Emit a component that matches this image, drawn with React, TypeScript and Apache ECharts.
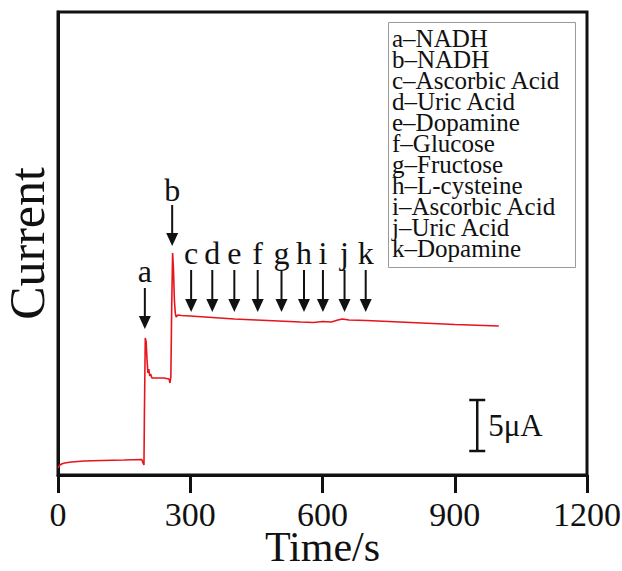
import React, { useEffect, useRef } from 'react';
import * as echarts from 'echarts';

const FONT = "'Liberation Serif', 'Times New Roman', Times, serif";

// Time (s) and current (µA, arbitrary offset)
const times = [0, 3, 8, 15, 30, 60, 100, 150, 190, 193, 195, 196, 198, 200, 202, 204, 206, 208, 210, 213, 220, 240, 252, 254, 256, 258, 260, 262, 264, 266, 268, 272, 280, 300, 350, 400, 450, 500, 550, 580, 600, 620, 635, 645, 660, 700, 800, 900, 1000];
const current = [0.7, 0.95, 1.1, 1.2, 1.3, 1.4, 1.45, 1.5, 1.55, 1.2, 1.0, 6.0, 13.7, 13.3, 11.5, 10.2, 10.6, 9.9, 10.1, 9.7, 9.7, 9.7, 9.6, 9.2, 9.8, 17.0, 22.2, 20.5, 17.5, 16.2, 15.8, 16.0, 15.95, 15.9, 15.75, 15.6, 15.5, 15.4, 15.3, 15.25, 15.35, 15.3, 15.5, 15.6, 15.5, 15.45, 15.25, 15.05, 14.9];

// Injection arrows
const arrowLetters = ['a', 'b', 'c', 'd', 'e', 'f', 'g', 'h', 'i', 'j', 'k'];
const arrowTimes = [197, 259, 302, 350, 400, 453, 507, 558, 601, 650, 698];
const arrowTails = [18.7, 27.0, 20.5, 20.5, 20.5, 20.5, 20.5, 20.5, 20.5, 20.5, 20.5];
const arrowTips = [14.6, 22.9, 16.3, 16.3, 16.3, 16.3, 16.3, 16.3, 16.3, 16.3, 16.3];
const letterLevels = [20.4, 28.5, 22.2, 22.2, 22.2, 22.2, 22.2, 22.2, 22.2, 22.2, 22.2];

const legendItems = [
  'a\u2013NADH',
  'b\u2013NADH',
  'c\u2013Ascorbic Acid',
  'd\u2013Uric Acid',
  'e\u2013Dopamine',
  'f\u2013Glucose',
  'g\u2013Fructose',
  'h\u2013L-cysteine',
  'i\u2013Ascorbic Acid',
  'j\u2013Uric Acid',
  'k\u2013Dopamine',
];

// Scale bar: [time, from, to]
const scaleBar = [[951, 2.4, 7.5]];
const scaleLabel = '5\u03bcA';

export default function App() {
  const ref = useRef<HTMLDivElement>(null);
  useEffect(() => {
    if (!ref.current) return;
    const chart = echarts.init(ref.current, null, { renderer: 'svg' });
    const legendGraphics: any[] = [
      {
        type: 'rect',
        left: 388,
        top: 22,
        shape: { width: 187, height: 245 },
        style: { fill: '#fff', stroke: '#9a9a9a', lineWidth: 1 },
        z: 10,
      },
      ...legendItems.map((txt, i) => ({
        type: 'text',
        x: 392,
        y: 38.5 + i * 21,
        z: 11,
        style: {
          text: txt,
          fontSize: 25,
          lineHeight: 20,
          fontFamily: FONT,
          fill: '#111',
          align: 'left',
          verticalAlign: 'middle',
        },
      })),
    ];
    chart.setOption({
      animation: false,
      backgroundColor: '#fff',
      grid: {
        left: 58,
        right: 35,
        top: 12,
        bottom: 96,
        show: true,
        borderColor: '#111',
        borderWidth: 3,
        backgroundColor: 'transparent',
        containLabel: false,
        outerBoundsMode: 'none',
      },
      xAxis: {
        type: 'value',
        min: 0,
        max: 1200,
        interval: 300,
        name: 'Time/s',
        nameLocation: 'middle',
        nameGap: 51,
        nameMoveOverlap: false,
        nameTextStyle: { fontSize: 42, lineHeight: 42, fontFamily: FONT, color: '#111' },
        axisLine: { show: true, lineStyle: { color: '#111', width: 3 } },
        axisTick: { show: true, inside: false, length: 18, lineStyle: { color: '#111', width: 3 } },
        axisLabel: {
          fontSize: 34,
          fontFamily: FONT,
          color: '#111',
          margin: 22,
          formatter: (v: number) => String(v),
        },
        splitLine: { show: false },
      },
      yAxis: {
        type: 'value',
        min: 0,
        max: 46.3,
        name: 'Current',
        nameLocation: 'middle',
        nameGap: 8,
        nameMoveOverlap: false,
        nameTextStyle: { fontSize: 50, lineHeight: 46, fontFamily: FONT, color: '#111' },
        axisLine: { show: true, lineStyle: { color: '#111', width: 3 } },
        axisTick: { show: false },
        axisLabel: { show: false },
        splitLine: { show: false },
      },
      graphic: legendGraphics,
      series: [
        {
          type: 'line',
          data: times.map((t, i) => [t, current[i]]),
          showSymbol: false,
          symbol: 'none',
          lineStyle: { color: '#e8141c', width: 1.6 },
          z: 3,
        },
        {
          type: 'custom',
          data: arrowTimes.map((t, i) => [t, arrowTails[i], arrowTips[i], letterLevels[i]]),
          z: 4,
          renderItem: (params: any, api: any) => {
            const t = api.value(0);
            const pTail = api.coord([t, api.value(1)]);
            const pTip = api.coord([t, api.value(2)]);
            const pLab = api.coord([t, api.value(3)]);
            const headH = 13;
            const headW = 6;
            return {
              type: 'group',
              children: [
                {
                  type: 'line',
                  shape: { x1: pTail[0], y1: pTail[1], x2: pTip[0], y2: pTip[1] - headH + 1 },
                  style: { stroke: '#111', lineWidth: 2 },
                },
                {
                  type: 'polygon',
                  shape: {
                    points: [
                      [pTip[0] - headW, pTip[1] - headH],
                      [pTip[0] + headW, pTip[1] - headH],
                      [pTip[0], pTip[1]],
                    ],
                  },
                  style: { fill: '#111' },
                },
                {
                  type: 'text',
                  style: {
                    text: arrowLetters[params.dataIndex],
                    x: pLab[0],
                    y: pLab[1],
                    align: 'center',
                    verticalAlign: 'middle',
                    fontSize: 32,
                    fontFamily: FONT,
                    fill: '#111',
                  },
                },
              ],
            };
          },
        },
        {
          type: 'custom',
          data: scaleBar,
          z: 4,
          renderItem: (params: any, api: any) => {
            const t = api.value(0);
            const p0 = api.coord([t, api.value(1)]);
            const p1 = api.coord([t, api.value(2)]);
            const cap = 8;
            return {
              type: 'group',
              children: [
                { type: 'line', shape: { x1: p0[0], y1: p0[1], x2: p1[0], y2: p1[1] }, style: { stroke: '#111', lineWidth: 2.5 } },
                { type: 'line', shape: { x1: p0[0] - cap, y1: p0[1], x2: p0[0] + cap, y2: p0[1] }, style: { stroke: '#111', lineWidth: 2.5 } },
                { type: 'line', shape: { x1: p1[0] - cap, y1: p1[1], x2: p1[0] + cap, y2: p1[1] }, style: { stroke: '#111', lineWidth: 2.5 } },
                {
                  type: 'text',
                  style: {
                    text: scaleLabel,
                    x: p0[0] + 11,
                    y: (p0[1] + p1[1]) / 2,
                    align: 'left',
                    verticalAlign: 'middle',
                    fontSize: 31,
                    fontFamily: FONT,
                    fill: '#111',
                  },
                },
              ],
            };
          },
        },
      ],
    });
    return () => chart.dispose();
  }, []);
  return (
    <div
      ref={ref}
      style={{ position: 'fixed', left: 0, top: 0, width: 622, height: 571, background: '#fff' }}
    />
  );
}
